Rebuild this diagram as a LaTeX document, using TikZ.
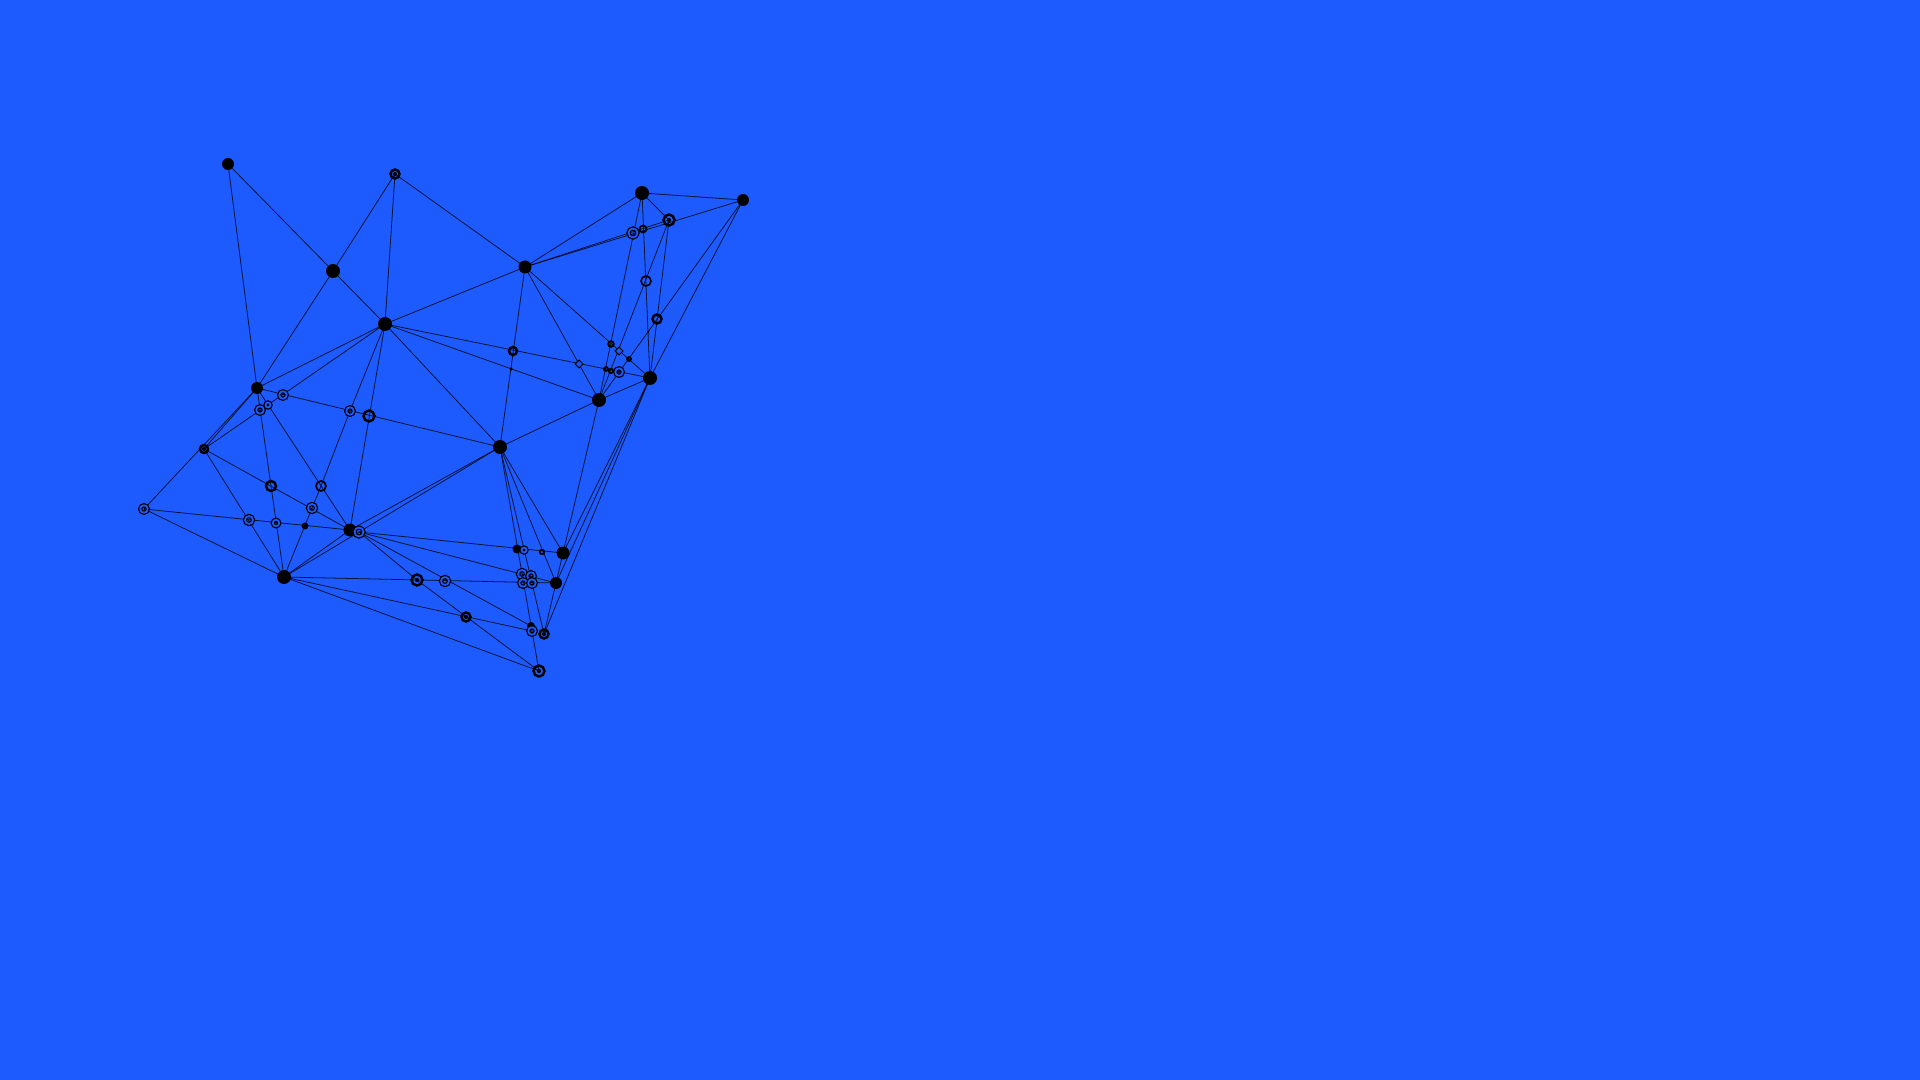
\documentclass[tikz,border=0pt]{standalone}
\usepackage{tikz}
\usetikzlibrary{backgrounds}

\definecolor{bgblue}{RGB}{30,91,255}
\tikzset{
  hubnode/.style={circle, fill=black, inner sep=0pt, minimum size=#1},
  hubnode/.default=0.13cm,
  ringnode/.style={circle, draw=black, line width=0.7pt, inner sep=0pt, minimum size=#1},
  ringnode/.default=0.10cm,
  dblnode/.style={circle, draw=black, double=bgblue, double distance=0.5pt, line width=0.35pt, inner sep=0pt, minimum size=#1},
  dblnode/.default=0.075cm,
  dotnode/.style={ringnode=#1, path picture={\fill[black] (path picture bounding box.center) circle (0.6pt);}},
  dotnode/.default=0.09cm,
  link/.style={black, line width=0.22pt, opacity=0.8}
}

\begin{document}
\begin{tikzpicture}
  \useasboundingbox (0, 0) rectangle (19.2, -10.8);
  % left part
  \node[hubnode=0.12cm] (A) at (2.28, -1.64) {};
  \node[dotnode] (B) at (3.95, -1.74) {};
  \node[hubnode=0.14cm] (C) at (3.33, -2.71) {};
  \node[hubnode=0.14cm] (D) at (3.85, -3.24) {};
  \node[hubnode=0.12cm] (E) at (2.57, -3.88) {};
  \node[dblnode] (F) at (2.83, -3.95) {};
  \node[dblnode] (G) at (2.60, -4.10) {};
  \node[dblnode=0.05cm] (H) at (2.68, -4.05) {};
  \node[dblnode] (I) at (3.50, -4.11) {};
  \node[ringnode=0.11cm] (J) at (3.69, -4.16) {};
  \node[dotnode=0.08cm] (K) at (2.04, -4.49) {};
  \node[dblnode] (L) at (1.44, -5.09) {};
  \node[ringnode] (M) at (2.71, -4.86) {};
  \node[ringnode, line width=0.5pt] (N) at (3.21, -4.86) {};
  \node[dblnode=0.08cm] (O) at (3.12, -5.08) {};
  \node[dblnode=0.08cm] (P) at (2.49, -5.20) {};
  \node[dblnode=0.065cm] (Q) at (2.76, -5.23) {};
  \node[hubnode=0.07cm] (R) at (3.05, -5.26) {};
  \node[hubnode] (S) at (3.50, -5.30) {};
  \node[dblnode=0.09cm] (T) at (3.59, -5.32) {};
  \node[hubnode=0.14cm] (U) at (2.84, -5.77) {};
  \node[dotnode=0.11cm] (V) at (4.17, -5.80) {};
  \node[dblnode=0.08cm] (W) at (4.45, -5.81) {};
  % right part
  \node[hubnode] (Y) at (5.25, -2.67) {};
  \node[hubnode=0.14cm] (X1) at (6.42, -1.93) {};
  \node[hubnode=0.12cm] (X2) at (7.43, -2.00) {};
  \node[dotnode=0.11cm] (X3) at (6.69, -2.20) {};
  \node[dblnode=0.09cm] (X4) at (6.33, -2.33) {};
  \node[ringnode=0.07cm, line width=0.5pt] (X5) at (6.43, -2.29) {};
  \node[ringnode=0.10cm, line width=0.45pt] (Z1) at (6.46, -2.81) {};
  \node[ringnode=0.09cm] (Z2) at (6.57, -3.19) {};
  \node[hubnode=0.025cm] (Z3) at (6.48, -3.32) {};
  \node[ringnode=0.055cm, line width=0.55pt] (Z4) at (6.11, -3.44) {};
  \node[dblnode=0.035cm] (Z5) at (6.19, -3.51) {};
  \node[ringnode=0.04cm, line width=0.5pt] (Z6) at (6.29, -3.59) {};
  \node[ringnode=0.04cm, line width=0.5pt] (Z7) at (6.06, -3.69) {};
  \node[ringnode=0.045cm, line width=0.5pt] (Z8) at (6.11, -3.71) {};
  \node[dblnode] (Z9) at (6.19, -3.72) {};
  \node[hubnode=0.14cm] (AA) at (6.50, -3.78) {};
  \node[hubnode=0.14cm] (BB) at (5.99, -4.00) {};
  \node[ringnode=0.08cm] (CC) at (5.13, -3.51) {};
  \node[hubnode=0.035cm] (DD) at (5.11, -3.69) {};
  \node[dblnode=0.035cm] (EE) at (5.79, -3.64) {};
  \node[hubnode=0.14cm] (FF) at (5.00, -4.47) {};
  % bottom cluster
  \node[hubnode=0.09cm] (GG) at (5.17, -5.49) {};
  \node[dblnode=0.05cm] (HH) at (5.24, -5.50) {};
  \node[ringnode=0.045cm, line width=0.5pt] (II) at (5.42, -5.52) {};
  \node[hubnode] (JJ) at (5.63, -5.53) {};
  \node[dblnode=0.08cm] (KK) at (5.22, -5.74) {};
  \node[dblnode] (LL) at (5.31, -5.76) {};
  \node[dblnode] (MM) at (5.23, -5.83) {};
  \node[dblnode] (NN) at (5.32, -5.83) {};
  \node[hubnode=0.12cm] (OO) at (5.56, -5.83) {};
  \node[dotnode] (PP) at (4.66, -6.17) {};
  \node[hubnode=0.08cm] (QQ) at (5.31, -6.26) {};
  \node[dblnode] (RR) at (5.32, -6.31) {};
  \node[dotnode] (SS) at (5.44, -6.34) {};
  \node[dotnode=0.11cm] (TT) at (5.39, -6.71) {};

  \begin{scope}[on background layer]
    \fill[bgblue] (0, 0) rectangle (19.2, -10.8);
    \foreach \a/\b in {A/C, A/E, B/C, B/D, B/Y, C/D, C/E, D/Y, D/E, D/I, D/S, K/D,
        D/AA, D/BB, D/FF, E/K, E/L, E/U, E/S, E/FF, K/S, K/U, L/S, L/U, N/I, N/U,
        S/U, T/U, S/FF, T/FF, T/JJ, T/OO, T/V, T/QQ, U/OO, U/RR, U/TT, V/TT, RR/TT,
        FF/RR, FF/SS, FF/OO, FF/JJ, FF/BB, Y/FF, BB/JJ, AA/JJ, AA/OO, AA/SS, OO/SS,
        JJ/OO, Y/BB, Y/AA, Y/X1, Y/X2, Y/X3, BB/X1, BB/X3, BB/X2, BB/AA, X1/AA,
        X3/AA, X2/AA, X1/X2, X1/X3}
      \draw[link] (\a.center) -- (\b.center);
  \end{scope}
\end{tikzpicture}
\end{document}
